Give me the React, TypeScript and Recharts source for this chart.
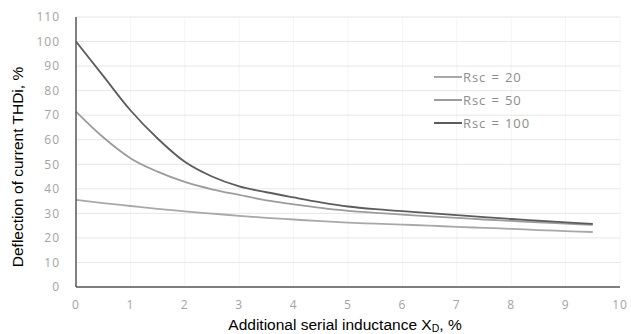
import { LineChart, Line, XAxis, YAxis, CartesianGrid } from "recharts"

// x positions of the sampled points (additional serial inductance, %)
const xValues = [0, 0.5, 1, 1.5, 2, 2.5, 3, 3.5, 4, 4.5, 5, 5.5, 6, 6.5, 7, 7.5, 8, 8.5, 9, 9.5]

// THDi deflection, %
const rsc20 = [35.5, 34.2, 33, 31.8, 30.8, 29.9, 29, 28.2, 27.5, 26.8, 26.2, 25.8, 25.4, 25, 24.5, 24.1, 23.7, 23.2, 22.8, 22.4]
const rsc50 = [71.5, 61, 52.5, 47, 42.8, 39.8, 37.5, 35.3, 33.7, 32.2, 31, 30.2, 29.5, 28.8, 28.2, 27.5, 26.9, 26.3, 25.8, 25.3]
const rsc100 = [100, 86, 72, 60.5, 51, 45, 41, 38.6, 36.5, 34.5, 32.8, 31.7, 30.9, 30.1, 29.3, 28.5, 27.7, 27, 26.3, 25.7]

const xTicks = [0, 1, 2, 3, 4, 5, 6, 7, 8, 9, 10]
const yTicks = [0, 10, 20, 30, 40, 50, 60, 70, 80, 90, 100, 110]

const series = [
  { key: "rsc20", name: "Rsc = 20", color: "#a8a8a8" },
  { key: "rsc50", name: "Rsc = 50", color: "#9c9c9c" },
  { key: "rsc100", name: "Rsc = 100", color: "#5c5c5c" },
]

const data = xValues.map((x, i) => ({
  x,
  rsc20: rsc20[i],
  rsc50: rsc50[i],
  rsc100: rsc100[i],
}))

const tickStyle = { fontFamily: "Open Sans", fontSize: 12, fill: "#a3a3a3", letterSpacing: 1 }

// legend drawn as an overlay so the plot keeps its full height
const LegendBox = () => (
  <div
    style={{
      position: "absolute",
      left: 434,
      top: 65,
      fontFamily: "Open Sans",
      fontSize: 13,
      letterSpacing: 0.9,
      wordSpacing: 1,
      color: "#8c8c8c",
    }}
  >
    {series.map((s) => (
      <div key={s.key} style={{ display: "flex", alignItems: "center", height: 23 }}>
        <div style={{ width: 28, height: 2, background: s.color, marginRight: 1 }} />
        <span>{s.name}</span>
      </div>
    ))}
  </div>
)

export default function App() {
  return (
    <div style={{ position: "absolute", left: 0, top: 0, width: 631, height: 334, background: "#fff" }}>
      <LineChart width={631} height={334} data={data} margin={{ top: 17, right: 11, left: 0, bottom: 0 }}>
        <CartesianGrid stroke="#f4f4f4" horizontal={false} verticalValues={xTicks} />
        <CartesianGrid stroke="#e6e6e6" vertical={false} horizontalValues={yTicks} />
        <XAxis
          dataKey="x"
          type="number"
          domain={[0, 10]}
          ticks={xTicks}
          tickLine={false}
          tickMargin={7}
          height={47}
          stroke="#595959"
          strokeWidth={1.5}
          tick={tickStyle}
          label={{
            content: () => (
              <text x={345} y={330} textAnchor="middle" fontFamily="Liberation Sans" fontSize={15.5} fill="#000">
                Additional serial inductance X
                <tspan fontSize={10.5} dy={2}>D</tspan>
                <tspan dy={-2}>, %</tspan>
              </text>
            ),
          }}
        />
        <YAxis
          type="number"
          domain={[0, 110]}
          ticks={yTicks}
          tickLine={false}
          tickMargin={10}
          width={76}
          stroke="#595959"
          strokeWidth={1.5}
          tick={tickStyle}
          label={{
            content: () => (
              <text
                x={17}
                y={167}
                transform="rotate(-90 17 167)"
                textAnchor="middle"
                dominantBaseline="central"
                fontFamily="Liberation Sans"
                fontSize={15.5}
                fill="#000"
              >
                Deflection of current THDi, %
              </text>
            ),
          }}
        />
        {series.map((s) => (
          <Line
            key={s.key}
            dataKey={s.key}
            name={s.name}
            type="monotone"
            stroke={s.color}
            strokeWidth={1.8}
            dot={false}
            isAnimationActive={false}
          />
        ))}
      </LineChart>
      <LegendBox />
    </div>
  )
}
